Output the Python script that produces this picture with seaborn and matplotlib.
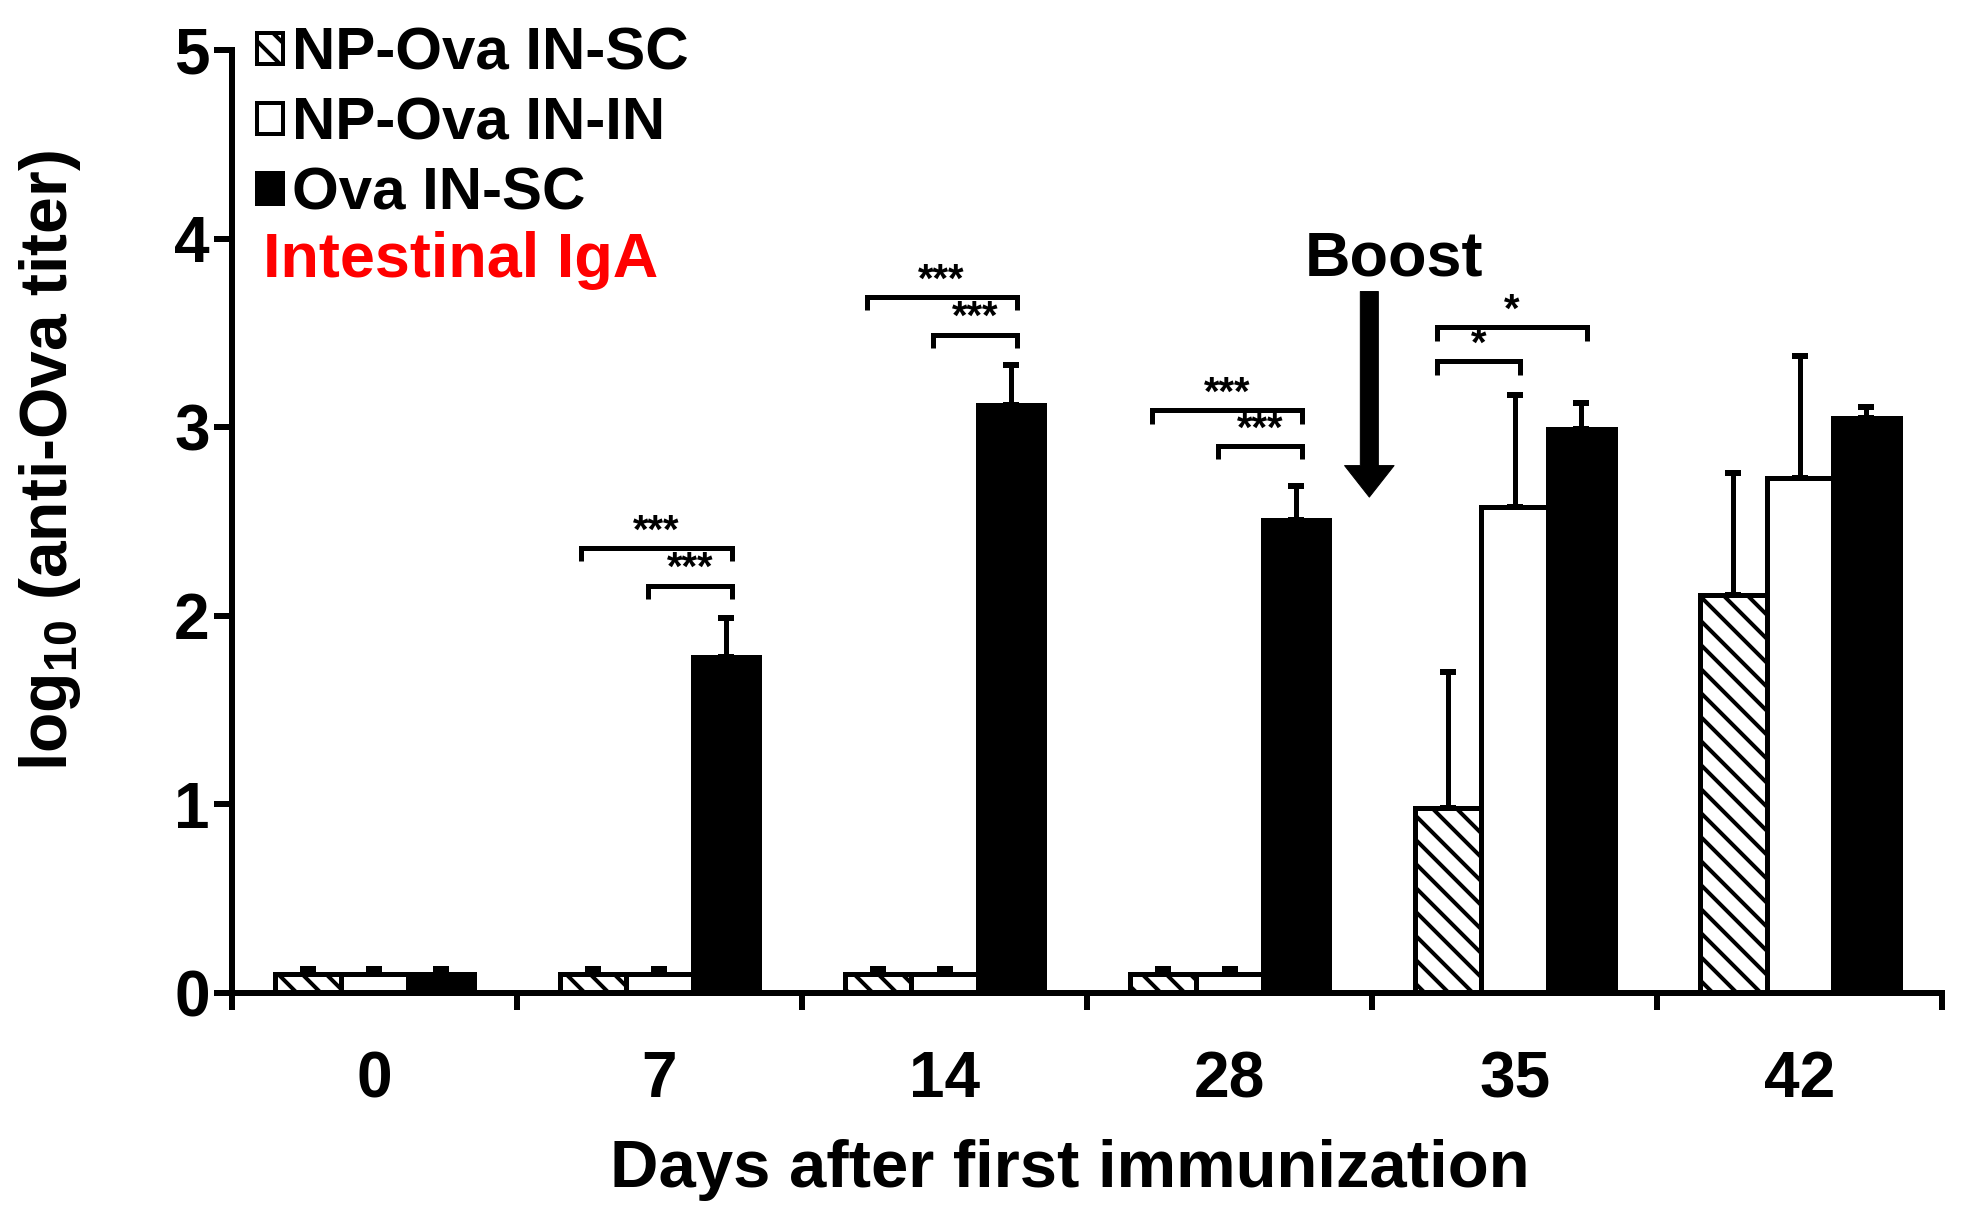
import numpy as np
import pandas as pd
import matplotlib
matplotlib.use('Agg')
import matplotlib.pyplot as plt
import matplotlib.patches as mpatches
import seaborn as sns

days = ['0', '7', '14', '28', '35', '42']
groups = ['NP-Ova IN-SC', 'NP-Ova IN-IN', 'Ova IN-SC']

np_ova_insc = [0.10, 0.10, 0.10, 0.10, 0.98, 2.11]
np_ova_inin = [0.10, 0.10, 0.10, 0.10, 2.58, 2.73]
ova_insc = [0.10, 1.78, 3.12, 2.51, 2.99, 3.05]

np_ova_insc_err = [0.03, 0.03, 0.03, 0.03, 0.72, 0.65]
np_ova_inin_err = [0.03, 0.03, 0.03, 0.03, 0.59, 0.65]
ova_insc_err = [0.03, 0.21, 0.21, 0.18, 0.14, 0.06]

# significance brackets: day index, from group, to group, height, label
sig_day = [1, 1, 2, 2, 3, 3, 4, 4]
sig_from = [0, 1, 0, 1, 0, 1, 0, 0]
sig_to = [2, 2, 2, 2, 2, 2, 2, 1]
sig_y = [2.36, 2.16, 3.69, 3.49, 3.09, 2.90, 3.53, 3.35]
sig_text = ['***', '***', '***', '***', '***', '***', '*', '*']

sns.set_style('ticks')
plt.rcParams['font.family'] = ['Liberation Sans', 'DejaVu Sans']
plt.rcParams['font.weight'] = 'bold'
plt.rcParams['mathtext.fontset'] = 'custom'
plt.rcParams['mathtext.rm'] = 'Liberation Sans:bold'
plt.rcParams['mathtext.bf'] = 'Liberation Sans:bold'
plt.rcParams['hatch.linewidth'] = 4
for key in ['text.color', 'axes.labelcolor', 'xtick.color', 'ytick.color', 'axes.edgecolor']:
    plt.rcParams[key] = 'black'

df = pd.DataFrame({
    'day': np.tile(days, 3),
    'group': np.repeat(groups, len(days)),
    'value': np.concatenate([np_ova_insc, np_ova_inin, ova_insc]),
})

fig = plt.figure(figsize=(1964 / 72, 1223 / 72), dpi=72)
ax = fig.add_axes([0.118, 0.188, 0.871, 0.771])

sns.barplot(data=df, x='day', y='value', hue='group', order=days, hue_order=groups,
            palette=['white', 'white', 'black'], saturation=1, edgecolor='black',
            linewidth=5, width=0.7, errorbar=None, legend=False, ax=ax)

for p in ax.containers[0]:
    p.set_hatch('\\')

# one-sided error bars
values = [np_ova_insc, np_ova_inin, ova_insc]
errs = [np_ova_insc_err, np_ova_inin_err, ova_insc_err]
centers = []
for cont, vals, err in zip(ax.containers, values, errs):
    xs = [p.get_x() + p.get_width() / 2 for p in cont]
    centers.append(xs)
    ax.errorbar(xs, vals, yerr=[np.zeros(len(err)), err], fmt='none', ecolor='black',
                elinewidth=5, capsize=8, capthick=6, zorder=0.5)

# significance brackets
for d, f, t, y, s in zip(sig_day, sig_from, sig_to, sig_y, sig_text):
    x0 = centers[f][d] - 0.04
    x1 = centers[t][d] + 0.02
    ax.plot([x0, x0, x1, x1], [y - 0.07, y, y, y - 0.07], color='black', lw=5,
            solid_capstyle='butt', solid_joinstyle='miter')
    ax.text((x0 + x1) / 2, y + 0.03, s, ha='center', va='baseline', fontsize=40,
            fontweight='bold')

ax.set_xlim(-0.5, 5.5)
ax.set_ylim(0, 5)
ax.set_xticks(np.arange(-0.5, 6, 1))
ax.set_xticklabels([])
ax.set_xticks(range(len(days)), minor=True)
ax.set_xticklabels(days, minor=True)
ax.tick_params(axis='x', which='major', length=17, width=6, direction='out')
ax.tick_params(axis='x', which='minor', length=0, pad=57, labelsize=64)
ax.set_yticks(range(6))
ax.tick_params(axis='y', length=18, width=6, pad=4, labelsize=64)
for lbl in ax.get_xticklabels(minor=True) + ax.get_yticklabels():
    lbl.set_fontweight('bold')

for side in ['top', 'right']:
    ax.spines[side].set_visible(False)
for side in ['left', 'bottom']:
    ax.spines[side].set_linewidth(6)

ax.set_xlabel('Days after first immunization', fontsize=67, fontweight='bold')
ax.xaxis.set_label_coords(0.49, -0.155)
ax.set_ylabel(r'log$_{\mathrm{10}}$ (anti-Ova titer)', fontsize=66, fontweight='bold')
ax.yaxis.set_label_coords(-0.087, 0.565)

handles = [
    mpatches.Patch(facecolor='white', edgecolor='black', hatch='\\', linewidth=4, label=groups[0]),
    mpatches.Patch(facecolor='white', edgecolor='black', linewidth=4, label=groups[1]),
    mpatches.Patch(facecolor='black', edgecolor='black', linewidth=4, label=groups[2]),
]
ax.legend(handles=handles, loc='upper left', bbox_to_anchor=(0.015, 1.025), frameon=False,
          fontsize=60, handlelength=0.42, handleheight=0.42, handletextpad=0.15,
          labelspacing=0.25, borderpad=0, borderaxespad=0)

ax.text(0.018, 0.777, 'Intestinal IgA', transform=ax.transAxes, color='#ff0000',
        fontsize=63, fontweight='bold', va='center', ha='left')

ax.text(3.577, 3.89, 'Boost', ha='center', va='center', fontsize=63, fontweight='bold')
ax.annotate('', xy=(3.49, 2.63), xytext=(3.49, 3.72),
            arrowprops=dict(arrowstyle='simple,head_length=0.7,head_width=1.1,tail_width=0.4',
                            mutation_scale=45, color='black', shrinkA=0, shrinkB=0))

fig.savefig('out.png', dpi=72)
